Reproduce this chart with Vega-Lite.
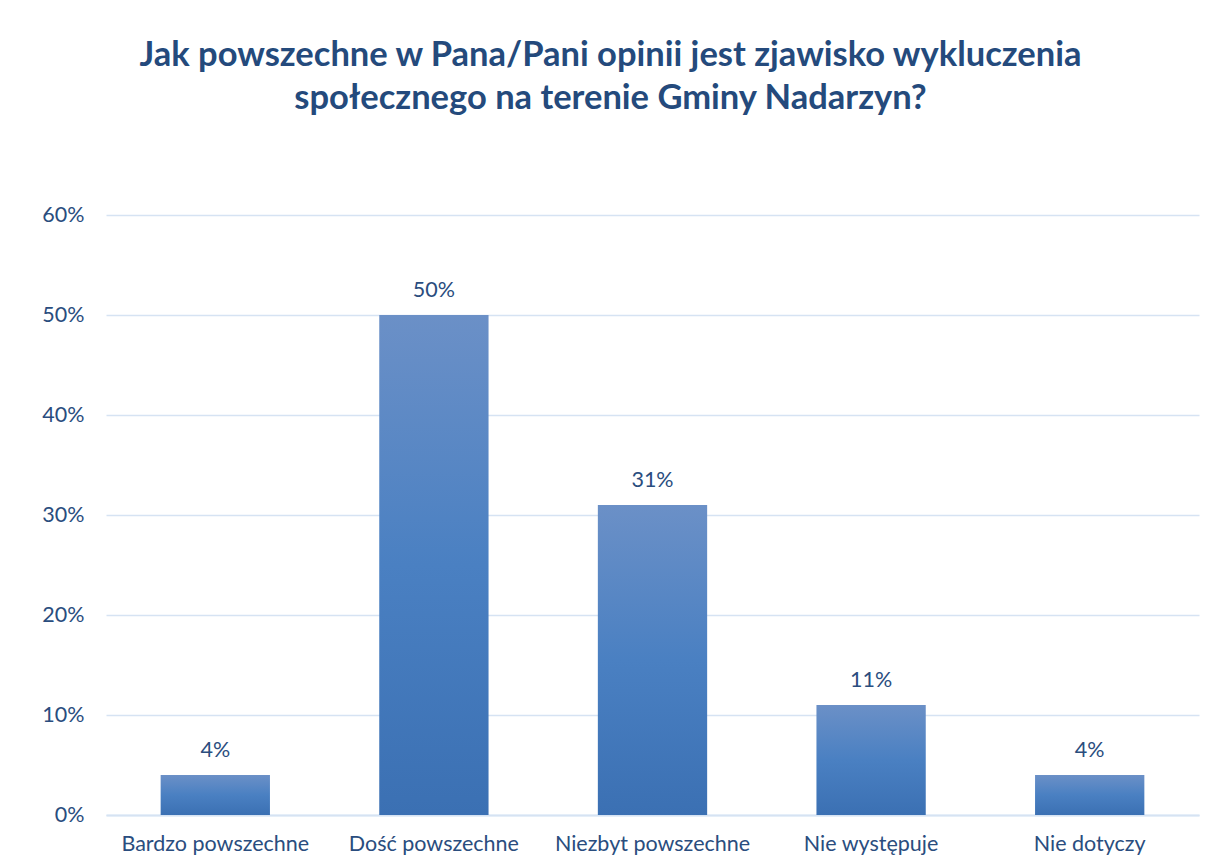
{
  "$schema": "https://vega.github.io/schema/vega-lite/v6.json",
  "autosize": {"type": "none"},
  "width": 1093,
  "height": 600,
  "padding": {"left": 106, "top": 215, "right": 14, "bottom": 49},
  "background": "white",
  "title": {
    "text": ["Jak powszechne w Pana/Pani opinii jest zjawisko wykluczenia", "społecznego na terenie Gminy Nadarzyn?"],
    "font": "Lato",
    "fontSize": 34.5,
    "fontWeight": "bold",
    "color": "#244a7c",
    "anchor": "middle",
    "dx": -42,
    "offset": 88,
    "lineHeight": 43
  },
  "data": {
    "values": [
      {"kategoria": "Bardzo powszechne", "wartosc": 0.04},
      {"kategoria": "Dość powszechne", "wartosc": 0.50},
      {"kategoria": "Niezbyt powszechne", "wartosc": 0.31},
      {"kategoria": "Nie występuje", "wartosc": 0.11},
      {"kategoria": "Nie dotyczy", "wartosc": 0.04}
    ]
  },
  "encoding": {
    "x": {
      "field": "kategoria",
      "type": "nominal",
      "sort": null,
      "title": null,
      "scale": {"paddingInner": 0.5, "paddingOuter": 0.25},
      "axis": {
        "labelAngle": 0,
        "labelFont": "Lato",
        "labelFontSize": 21.5,
        "labelColor": "#2a4d7e",
        "labelPadding": 18,
        "labelLimit": 0,
        "ticks": false,
        "domainColor": "#d6e3f3",
        "domainWidth": 2,
        "grid": false
      }
    },
    "y": {
      "field": "wartosc",
      "type": "quantitative",
      "title": null,
      "scale": {"domain": [0, 0.6], "nice": false},
      "axis": {
        "format": ".0%",
        "values": [0, 0.1, 0.2, 0.3, 0.4, 0.5, 0.6],
        "labelFont": "Lato",
        "labelFontSize": 21.5,
        "labelColor": "#2a4d7e",
        "labelPadding": 22,
        "ticks": false,
        "domain": false,
        "gridColor": "#d6e3f3",
        "gridWidth": 1.5
      }
    }
  },
  "layer": [
    {
      "mark": {
        "type": "bar",
        "color": {
          "gradient": "linear",
          "x1": 0, "y1": 0, "x2": 0, "y2": 1,
          "stops": [
            {"offset": 0, "color": "#6b90c7"},
            {"offset": 0.5, "color": "#4a80c2"},
            {"offset": 1, "color": "#3b70b3"}
          ]
        }
      }
    },
    {
      "mark": {
        "type": "text",
        "baseline": "bottom",
        "dy": -13,
        "font": "Lato",
        "fontSize": 21.5,
        "color": "#2a4d7e"
      },
      "encoding": {
        "text": {"field": "wartosc", "type": "quantitative", "format": ".0%"}
      }
    }
  ],
  "config": {"view": {"stroke": null}}
}
